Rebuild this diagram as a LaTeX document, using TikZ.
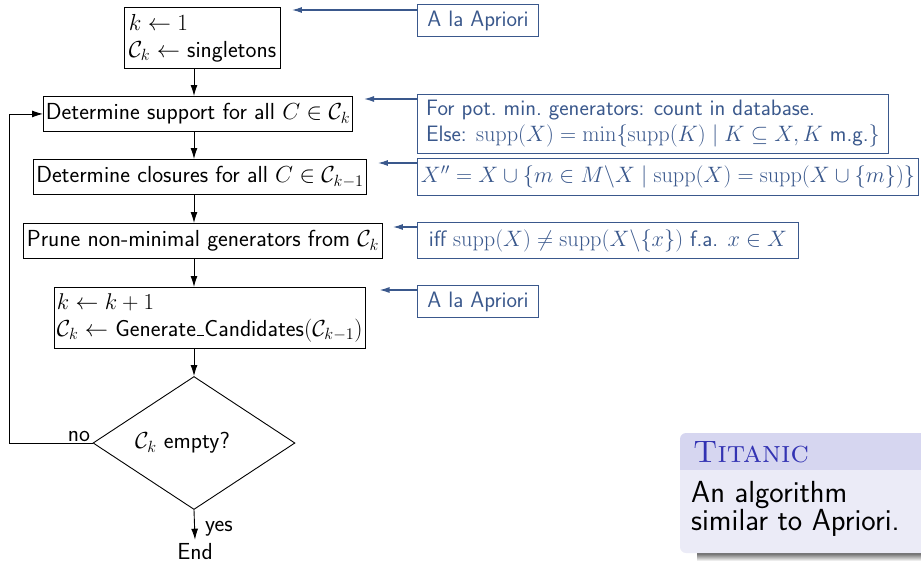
\documentclass[tikz,border=0pt]{standalone}
\usepackage{fix-cm}
\usetikzlibrary{shapes.geometric,arrows.meta,calc}
\definecolor{note}{RGB}{58,88,140}
\definecolor{structblue}{RGB}{51,51,179}
\definecolor{titlebg}{RGB}{214,214,240}
\definecolor{bodybg}{RGB}{235,235,247}
\newcommand{\narrowus}{\kern.06em\vbox{\hrule width .3em height 1pt}}
\begin{document}
\begin{tikzpicture}[x=1pt,y=-1pt,
  font=\sffamily\fontsize{23.2}{27}\selectfont,
  stepbox/.style={draw, line width=0.9pt, inner xsep=2.5pt, inner ysep=2pt, align=left, anchor=north west},
  notebox/.style={draw=note, text=note, line width=1pt, inner xsep=2.5pt, inner ysep=2pt, align=left, anchor=north west,
    font=\sffamily\fontsize{22.3}{26}\selectfont},
  flow/.style={-{Latex[length=11pt,width=7pt]}, line width=0.9pt},
  notearrow/.style={-{Latex[length=10pt,width=6pt]}, draw=note, line width=1.2pt},
  lbl/.style={inner sep=0pt},
]
\useasboundingbox (0,0) rectangle (921,562);

% flow boxes
\node[stepbox, minimum width=156pt, minimum height=61pt] (b1) at (124,7)
  {\fontsize{23.2}{27.5}\selectfont $k \leftarrow 1$\\$\mathcal{C}_k \leftarrow$ singletons};
\node[stepbox, minimum width=308pt, minimum height=35pt] (b2) at (43,96)
  {Determine support for all $C \in \mathcal{C}_k$};
\node[stepbox, minimum width=333pt, minimum height=35pt] (b3) at (33,159)
  {Determine closures for all $C \in \mathcal{C}_{k-1}$};
\node[stepbox, minimum width=359pt, minimum height=35pt] (b4) at (23,223)
  {Prune non-minimal generators from $\mathcal{C}_k$};
\node[stepbox, minimum width=307pt, minimum height=61pt] (b5) at (54,287)
  {\fontsize{22.8}{27}\selectfont $k \leftarrow k+1$\\$\mathcal{C}_k \leftarrow$ Generate\narrowus Candidates$(\mathcal{C}_{k-1})$};
\node[diamond, draw, line width=0.9pt, aspect=1.5, inner sep=0pt,
      minimum width=202pt, minimum height=133pt] (d) at (194,443)
  {$\mathcal{C}_k$ empty?\hspace*{23pt}};
\node[inner xsep=2pt, inner ysep=3pt, anchor=base] (e) at (195,559) {End};
\node[lbl, anchor=base] (no) at (79,441) {no};
\node[lbl, anchor=base west] (yes) at (205,531) {yes};
\coordinate (lp) at (9,0);

% note boxes
\node[notebox, minimum width=121pt, minimum height=32pt] (n1) at (417,4) {A la Apriori};
\node[notebox, minimum width=471pt, minimum height=59pt] (n2) at (417,94)
  {\fontsize{22.3}{23.5}\selectfont For pot.\ min.\ generators: count in database.\\
   Else: $\mathrm{supp}(X) = \min\{\mathrm{supp}(K) \mid K \subseteq X, K$ m.g.$\}$};
\node[notebox, minimum width=501pt, minimum height=37pt] (n3) at (417,158)
  {$X'' = X \cup \{m \in M\backslash X \mid \mathrm{supp}(X) = \mathrm{supp}(X \cup \{m\})\}$};
\node[notebox, minimum width=381pt, minimum height=36pt] (n4) at (417,222)
  {iff $\mathrm{supp}(X) \neq \mathrm{supp}(X\backslash\{x\})$ f.a. $x \in X$};
\node[notebox, minimum width=121pt, minimum height=32pt] (n5) at (417,285) {A la Apriori};

% flow arrows
\draw[flow] (b1.south -| d.north) -- (b2.north -| d.north);
\draw[flow] (b2.south -| d.north) -- (b3.north -| d.north);
\draw[flow] (b3.south -| d.north) -- (b4.north -| d.north);
\draw[flow] (b4.south -| d.north) -- (b5.north -| d.north);
\draw[flow] (b5.south -| d.north) -- (d.north);
\draw[flow] (d.south) -- (e.north);
\draw[flow] (d.west) -- (d.west -| lp) |- (b2.west);

% note arrows
\draw[notearrow] ($(n1.north west)+(0,6)$) -- ($(b1.east |- n1.north west)+(11,6)$);
\draw[notearrow] ($(n2.north west)+(0,5)$) -- ($(b2.east |- n2.north west)+(11,5)$);
\draw[notearrow] ($(n3.north west)+(0,5)$) -- ($(b3.east |- n3.north west)+(11,5)$);
\draw[notearrow] ($(n4.north west)+(0,5)$) -- ($(b4.east |- n4.north west)+(10,5)$);
\draw[notearrow] ($(n5.north west)+(0,5)$) -- ($(b5.east |- n5.north west)+(14,5)$);

% Titanic block
\shade[top color=black!60, bottom color=white] (697,553) rectangle (930,561);
\fill[titlebg, rounded corners=6pt] (680,470) -- (680,433) -- (935,433) -- (935,470) -- cycle;
\fill[bodybg, rounded corners=6pt] (680,470) -- (680,553) -- (935,553) -- (935,470) -- cycle;
\fill[titlebg] (680,460) rectangle (935,470);
\fill[bodybg] (680,470) rectangle (935,480);
\node[inner sep=0pt, anchor=base west, text=structblue,
      font=\rmfamily\scshape\fontsize{31}{33}\selectfont] (bt) at (693,462) {Titanic};
\node[inner sep=0pt, anchor=north west, align=left,
      font=\sffamily\fontsize{30.5}{28}\selectfont] (bb) at (691,481)
  {An algorithm\\similar to Apriori.};
\end{tikzpicture}
\end{document}
